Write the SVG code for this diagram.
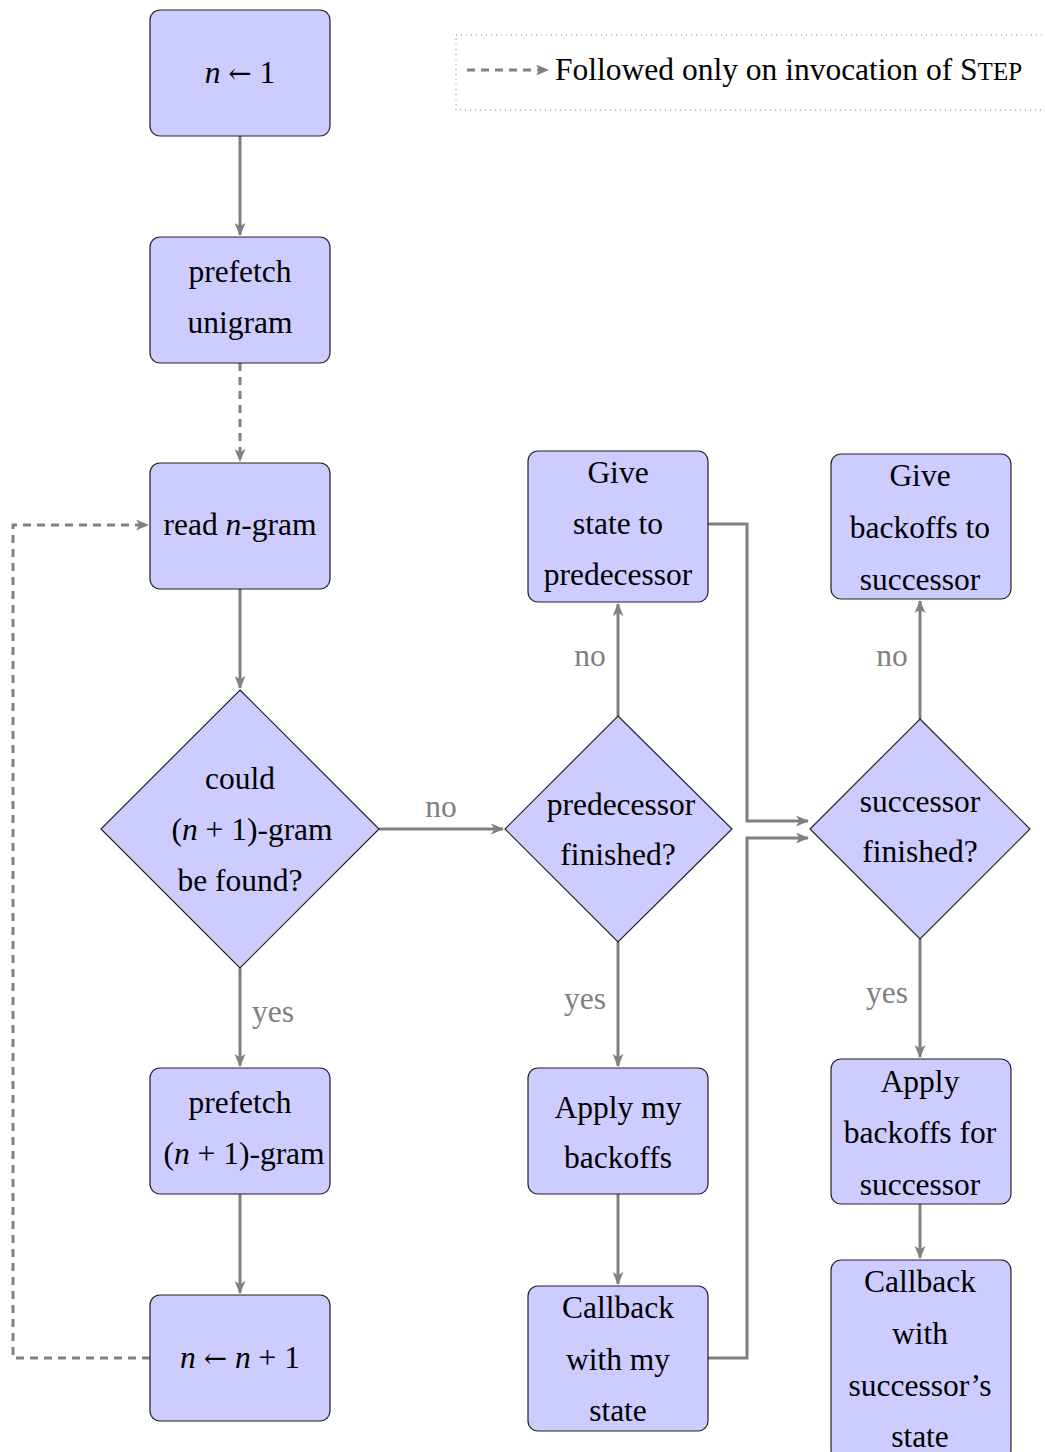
<svg xmlns="http://www.w3.org/2000/svg" width="1045" height="1452" viewBox="0 0 1045 1452">
<style>
text{font-family:"Liberation Serif","Times New Roman",serif;font-size:31.5px;fill:#000;text-anchor:middle}
.node rect,.node polygon{fill:#ccccff;stroke:#222;stroke-width:1.2}
.c{fill:none;stroke:#808080;stroke-width:3}
.d{stroke-dasharray:8,6}
.lbl{fill:#808080}
.i{font-style:italic}
.ar{font-family:"DejaVu Serif",serif;font-size:28px}
</style>
<defs>
<marker id="ah" viewBox="0 0 12 10" refX="11" refY="5" markerWidth="13" markerHeight="11" markerUnits="userSpaceOnUse" orient="auto">
<path d="M0,0 L12,5 L0,10 L3,5 z" fill="#808080"/>
</marker>
</defs>
<rect width="1045" height="1452" fill="#fff"/>
<g id="legend">
<rect x="456" y="35" width="600" height="75" fill="none" stroke="#808080" stroke-width="1" stroke-dasharray="1,4"/>
<path class="c d" d="M467,70 H548" marker-end="url(#ah)"/>
<text x="555" y="80" style="text-anchor:start">Followed only on invocation of S<tspan font-size="25">TEP</tspan></text>
</g>
<g id="connectors">
<path class="c" d="M240,136 V235" marker-end="url(#ah)"/>
<path class="c d" d="M240,363 V461" marker-end="url(#ah)"/>
<path class="c" d="M240,589 V688" marker-end="url(#ah)"/>
<path class="c" d="M240,968 V1066" marker-end="url(#ah)"/>
<path class="c" d="M240,1194 V1293" marker-end="url(#ah)"/>
<path class="c d" d="M150,1358 H13 V525 H148" marker-end="url(#ah)"/>
<path class="c" d="M379,829 H503" marker-end="url(#ah)"/>
<path class="c" d="M618,716 V604" marker-end="url(#ah)"/>
<path class="c" d="M618,942 V1066" marker-end="url(#ah)"/>
<path class="c" d="M618,1194 V1284" marker-end="url(#ah)"/>
<path class="c" d="M708,524 H747 V821 H808" marker-end="url(#ah)"/>
<path class="c" d="M708,1358 H747 V838 H808" marker-end="url(#ah)"/>
<path class="c" d="M920,719 V601" marker-end="url(#ah)"/>
<path class="c" d="M920,939 V1057" marker-end="url(#ah)"/>
<path class="c" d="M920,1204 V1258" marker-end="url(#ah)"/>
<text class="lbl" x="273" y="1022">yes</text>
<text class="lbl" x="441" y="817">no</text>
<text class="lbl" x="590" y="666">no</text>
<text class="lbl" x="585" y="1009">yes</text>
<text class="lbl" x="892" y="666">no</text>
<text class="lbl" x="887" y="1003">yes</text>
</g>
<g id="n1" class="node">
<rect x="150" y="10" width="180" height="126" rx="10"/>
<text x="240" y="83"><tspan class="i">n</tspan> <tspan class="ar">←</tspan> 1</text>
</g>
<g id="prefetch_unigram" class="node">
<rect x="150" y="237" width="180" height="126" rx="10"/>
<text x="240" y="282">prefetch</text>
<text x="240" y="333">unigram</text>
</g>
<g id="read_ngram" class="node">
<rect x="150" y="463" width="180" height="126" rx="10"/>
<text x="240" y="535">read <tspan class="i">n</tspan>-gram</text>
</g>
<g id="could_found" class="node">
<polygon points="240,690 379,829 240,968 101,829"/>
<text x="240" y="789">could</text>
<text x="252" y="840">(<tspan class="i">n</tspan> + 1)-gram</text>
<text x="240" y="891">be found?</text>
</g>
<g id="prefetch_n1" class="node">
<rect x="150" y="1068" width="180" height="126" rx="10"/>
<text x="240" y="1113">prefetch</text>
<text x="244" y="1164">(<tspan class="i">n</tspan> + 1)-gram</text>
</g>
<g id="n_inc" class="node">
<rect x="150" y="1295" width="180" height="126" rx="10"/>
<text x="240" y="1368"><tspan class="i">n</tspan> <tspan class="ar">←</tspan> <tspan class="i">n</tspan> + 1</text>
</g>
<g id="give_state" class="node">
<rect x="528" y="451" width="180" height="151" rx="10"/>
<text x="618" y="483">Give</text>
<text x="618" y="534">state to</text>
<text x="618" y="585">predecessor</text>
</g>
<g id="pred_finished" class="node">
<polygon points="618,716 732,829 618,942 505,829"/>
<text x="621" y="815">predecessor</text>
<text x="618" y="865">finished?</text>
</g>
<g id="apply_my" class="node">
<rect x="528" y="1068" width="180" height="126" rx="10"/>
<text x="618" y="1118">Apply my</text>
<text x="618" y="1168">backoffs</text>
</g>
<g id="callback_my" class="node">
<rect x="528" y="1286" width="180" height="145" rx="10"/>
<text x="618" y="1318">Callback</text>
<text x="618" y="1370">with my</text>
<text x="618" y="1421">state</text>
</g>
<g id="give_backoffs" class="node">
<rect x="831" y="454" width="180" height="145" rx="10"/>
<text x="920" y="486">Give</text>
<text x="920" y="538">backoffs to</text>
<text x="920" y="590">successor</text>
</g>
<g id="succ_finished" class="node">
<polygon points="920,719 1030,829 920,939 810,829"/>
<text x="920" y="812">successor</text>
<text x="920" y="862">finished?</text>
</g>
<g id="apply_succ" class="node">
<rect x="831" y="1059" width="180" height="145" rx="10"/>
<text x="920" y="1092">Apply</text>
<text x="920" y="1143">backoffs for</text>
<text x="920" y="1195">successor</text>
</g>
<g id="callback_succ" class="node">
<rect x="831" y="1260" width="180" height="200" rx="10"/>
<text x="920" y="1292">Callback</text>
<text x="920" y="1344">with</text>
<text x="920" y="1396">successor’s</text>
<text x="920" y="1447">state</text>
</g>
</svg>
